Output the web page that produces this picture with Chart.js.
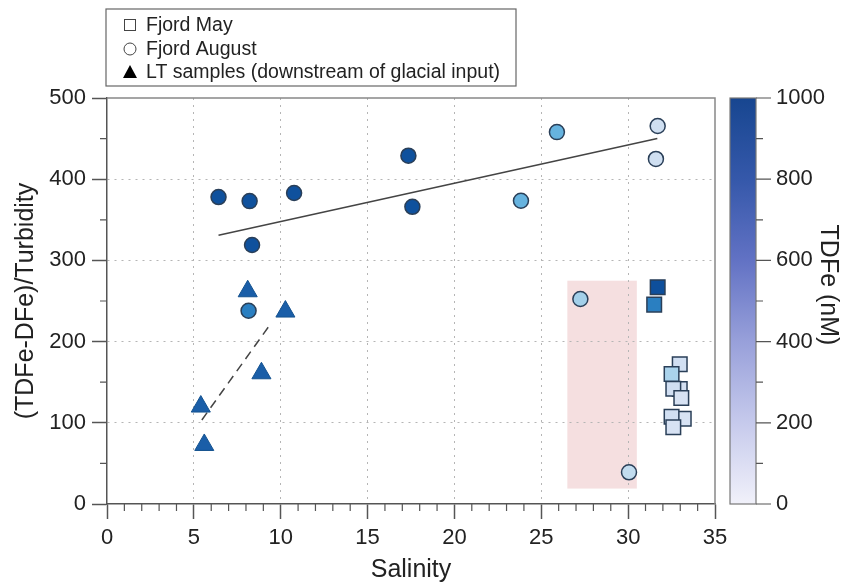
<!DOCTYPE html>
<html>
<head>
<meta charset="utf-8">
<script src="https://cdn.jsdelivr.net/npm/chart.js@4"></script>
<style>
  html, body { margin: 0; padding: 0; background: #fff; }
  canvas { display: block; }
</style>
</head>
<body>
<canvas id="chart" width="845" height="585"></canvas>
<script>
// Fjord August (circles)
const augSalinity = [6.42, 8.21, 8.35, 10.77, 17.35, 17.58, 8.15, 23.83, 25.9, 27.25, 30.05, 31.7, 31.6];
const augRatio    = [378, 373, 319, 383, 429, 366, 238, 373.5, 458, 252.5, 39, 465.5, 425];
const augTdfe     = [880, 880, 880, 880, 880, 880, 520, 320, 320, 230, 170, 120, 120];

// Fjord May (squares)
const maySalinity = [31.7, 31.5, 32.97, 32.97, 32.6, 33.06, 32.5, 33.2, 32.5, 32.6];
const mayRatio    = [267, 245.5, 172, 141.6, 142, 130.5, 160, 105, 107.5, 94.5];
const mayTdfe     = [900, 520, 110, 100, 110, 90, 220, 90, 110, 90];

// LT samples (triangles)
const ltSalinity = [8.1, 10.27, 8.89, 5.4, 5.6];
const ltRatio    = [262, 237, 161, 120, 72.7];

// fitted lines
const fjordFitX = [6.42, 31.68];
const fjordFitY = [331, 450];
const ltFitX = [5.46, 9.44];
const ltFitY = [103.5, 222.5];

// shaded salinity band
const shadeSalinity = [26.5, 30.5];
const shadeRatio = [19, 275];

const colorbarTicks = [0, 200, 400, 600, 800, 1000];
const colorbarMinor = [100, 300, 500, 700, 900];
const legendLabels = ['Fjord May', 'Fjord August', 'LT samples (downstream of glacial input)'];

const FONT = "'Liberation Sans', Arial, Helvetica, sans-serif";
const TEXT = '#222';

// marker colours by TDFe
const markerStops = [
  [0, [238, 242, 250]], [100, [212, 224, 242]], [200, [186, 218, 238]],
  [300, [108, 184, 226]], [500, [44, 130, 196]], [700, [24, 98, 168]],
  [900, [14, 79, 156]], [1000, [10, 66, 142]]
];
function tdfeColor(v) {
  for (let i = 1; i < markerStops.length; i++) {
    const [v1, c1] = markerStops[i];
    const [v0, c0] = markerStops[i - 1];
    if (v <= v1) {
      const t = (v - v0) / (v1 - v0);
      const c = c0.map((a, k) => Math.round(a + (c1[k] - a) * t));
      return `rgb(${c[0]},${c[1]},${c[2]})`;
    }
  }
  return 'rgb(10,66,142)';
}

const pts = (xs, ys) => xs.map((x, i) => ({ x, y: ys[i] }));

const extras = {
  id: 'extras',
  beforeDraw(chart) {
    const { ctx, scales: { x, y } } = chart;
    ctx.save();
    ctx.fillStyle = 'rgba(236, 196, 198, 0.55)';
    const x0 = x.getPixelForValue(shadeSalinity[0]), x1 = x.getPixelForValue(shadeSalinity[1]);
    const y0 = y.getPixelForValue(shadeRatio[1]), y1 = y.getPixelForValue(shadeRatio[0]);
    ctx.fillRect(x0, y0, x1 - x0, y1 - y0);
    ctx.restore();
  },
  afterDraw(chart) {
    const { ctx, chartArea: a, scales: { x, y } } = chart;
    ctx.save();
    // frame top / right
    ctx.strokeStyle = '#888';
    ctx.lineWidth = 1.5;
    ctx.beginPath();
    ctx.moveTo(a.left, a.top); ctx.lineTo(a.right, a.top); ctx.lineTo(a.right, a.bottom);
    ctx.stroke();

    // minor ticks
    ctx.strokeStyle = '#555';
    ctx.lineWidth = 1.2;
    ctx.beginPath();
    for (let v = 1; v < 35; v++) {
      if (v % 5 === 0) continue;
      const px = x.getPixelForValue(v);
      ctx.moveTo(px, a.bottom); ctx.lineTo(px, a.bottom + 7);
    }
    for (let v = 50; v < 500; v += 100) {
      const py = y.getPixelForValue(v);
      ctx.moveTo(a.left, py); ctx.lineTo(a.left - 7, py);
    }
    ctx.stroke();

    // colour bar
    const bx = 730, bw = 26;
    const grad = ctx.createLinearGradient(0, a.top, 0, a.bottom);
    grad.addColorStop(0, '#174690');
    grad.addColorStop(0.2, '#3558aa');
    grad.addColorStop(0.4, '#6272c4');
    grad.addColorStop(0.6, '#98a0da');
    grad.addColorStop(0.8, '#c6caec');
    grad.addColorStop(1, '#f1f1fa');
    ctx.fillStyle = grad;
    ctx.fillRect(bx, a.top, bw, a.bottom - a.top);
    ctx.strokeStyle = '#777';
    ctx.lineWidth = 1.2;
    ctx.strokeRect(bx, a.top, bw, a.bottom - a.top);
    const cbY = v => a.bottom - (v / 1000) * (a.bottom - a.top);
    ctx.strokeStyle = '#555';
    ctx.beginPath();
    colorbarTicks.forEach(v => { ctx.moveTo(bx + bw, cbY(v)); ctx.lineTo(bx + bw + 15, cbY(v)); });
    colorbarMinor.forEach(v => { ctx.moveTo(bx + bw, cbY(v)); ctx.lineTo(bx + bw + 7, cbY(v)); });
    ctx.stroke();
    ctx.fillStyle = TEXT;
    ctx.font = `22px ${FONT}`;
    ctx.textAlign = 'left';
    ctx.textBaseline = 'middle';
    colorbarTicks.forEach(v => ctx.fillText(String(v), bx + bw + 20, cbY(v)));
    ctx.save();
    ctx.translate(828, 285);
    ctx.rotate(Math.PI / 2);
    ctx.textAlign = 'center';
    ctx.font = `25px ${FONT}`;
    ctx.fillText('TDFe (nM)', 0, 0);
    ctx.restore();

    // legend
    ctx.strokeStyle = '#666';
    ctx.lineWidth = 1.2;
    ctx.fillStyle = '#fff';
    ctx.fillRect(106, 9, 410, 77);
    ctx.strokeRect(106, 9, 410, 77);
    const rows = [25, 49, 72];
    ctx.strokeStyle = '#444';
    ctx.lineWidth = 1;
    ctx.strokeRect(124.5, 19.5, 11, 11);
    ctx.beginPath(); ctx.arc(130, rows[1], 6, 0, Math.PI * 2); ctx.stroke();
    ctx.fillStyle = '#000';
    ctx.beginPath();
    ctx.moveTo(130, rows[2] - 7); ctx.lineTo(137, rows[2] + 6); ctx.lineTo(123, rows[2] + 6);
    ctx.closePath(); ctx.fill();
    ctx.fillStyle = TEXT;
    ctx.font = `19.5px ${FONT}`;
    ctx.textAlign = 'left';
    legendLabels.forEach((t, i) => ctx.fillText(t, 146, rows[i] + 1));
    ctx.restore();
  }
};

const gridColor = edgeMax => c => (c.tick && (c.tick.value === 0 || c.tick.value === edgeMax)) ? 'rgba(0,0,0,0)' : '#b5b5b5';

new Chart(document.getElementById('chart'), {
  type: 'scatter',
  data: {
    datasets: [
      {
        label: 'fjord fit',
        data: pts(fjordFitX, fjordFitY),
        showLine: true,
        borderColor: '#444',
        borderWidth: 1.5,
        pointRadius: 0,
        order: 5
      },
      {
        label: 'LT fit',
        data: pts(ltFitX, ltFitY),
        showLine: true,
        borderColor: '#444',
        borderWidth: 1.5,
        borderDash: [9, 6],
        pointRadius: 0,
        order: 5
      },
      {
        label: 'Fjord August',
        data: pts(augSalinity, augRatio),
        pointStyle: 'circle',
        pointRadius: 7.5,
        borderWidth: 1.5,
        borderColor: '#2a3f58',
        backgroundColor: c => tdfeColor(augTdfe[c.dataIndex]),
        order: 2
      },
      {
        label: 'Fjord May',
        data: pts(maySalinity, mayRatio),
        pointStyle: 'rect',
        pointRadius: 10.3,
        borderWidth: 1.5,
        borderColor: '#2a3f58',
        backgroundColor: c => tdfeColor(mayTdfe[c.dataIndex]),
        order: 3
      },
      {
        label: 'LT samples',
        data: pts(ltSalinity, ltRatio),
        pointStyle: 'triangle',
        pointRadius: 11,
        borderWidth: 1,
        borderColor: '#14528f',
        backgroundColor: '#1a5ea8',
        order: 1
      }
    ]
  },
  options: {
    responsive: false,
    animation: false,
    devicePixelRatio: 1,
    layout: { padding: { top: 98, right: 130, left: 0, bottom: 0 } },
    plugins: { legend: { display: false }, tooltip: { enabled: false } },
    scales: {
      x: {
        type: 'linear',
        min: 0, max: 35,
        afterFit: s => { s.height = 81; },
        ticks: { stepSize: 5, color: TEXT, font: { family: FONT, size: 22 }, padding: 6 },
        grid: { color: gridColor(35), lineWidth: 1, tickLength: 15, tickColor: '#555', tickWidth: 1.5, tickBorderDash: [] },
        border: { display: true, color: '#555', width: 1.5, dash: [2, 5] },
        title: { display: true, text: 'Salinity', color: TEXT, font: { family: FONT, size: 25 }, padding: { top: 0, bottom: 0 } }
      },
      y: {
        type: 'linear',
        min: 0, max: 500,
        afterFit: s => { s.width = 107; },
        ticks: { stepSize: 100, color: TEXT, font: { family: FONT, size: 22 }, padding: 6 },
        grid: { color: gridColor(500), lineWidth: 1, tickLength: 15, tickColor: '#555', tickWidth: 1.5, tickBorderDash: [] },
        border: { display: true, color: '#555', width: 1.5, dash: [2, 5] },
        title: { display: true, text: '(TDFe-DFe)/Turbidity', color: TEXT, font: { family: FONT, size: 25 }, padding: { top: 11, bottom: 0 } }
      }
    }
  },
  plugins: [extras]
});
</script>
</body>
</html>
